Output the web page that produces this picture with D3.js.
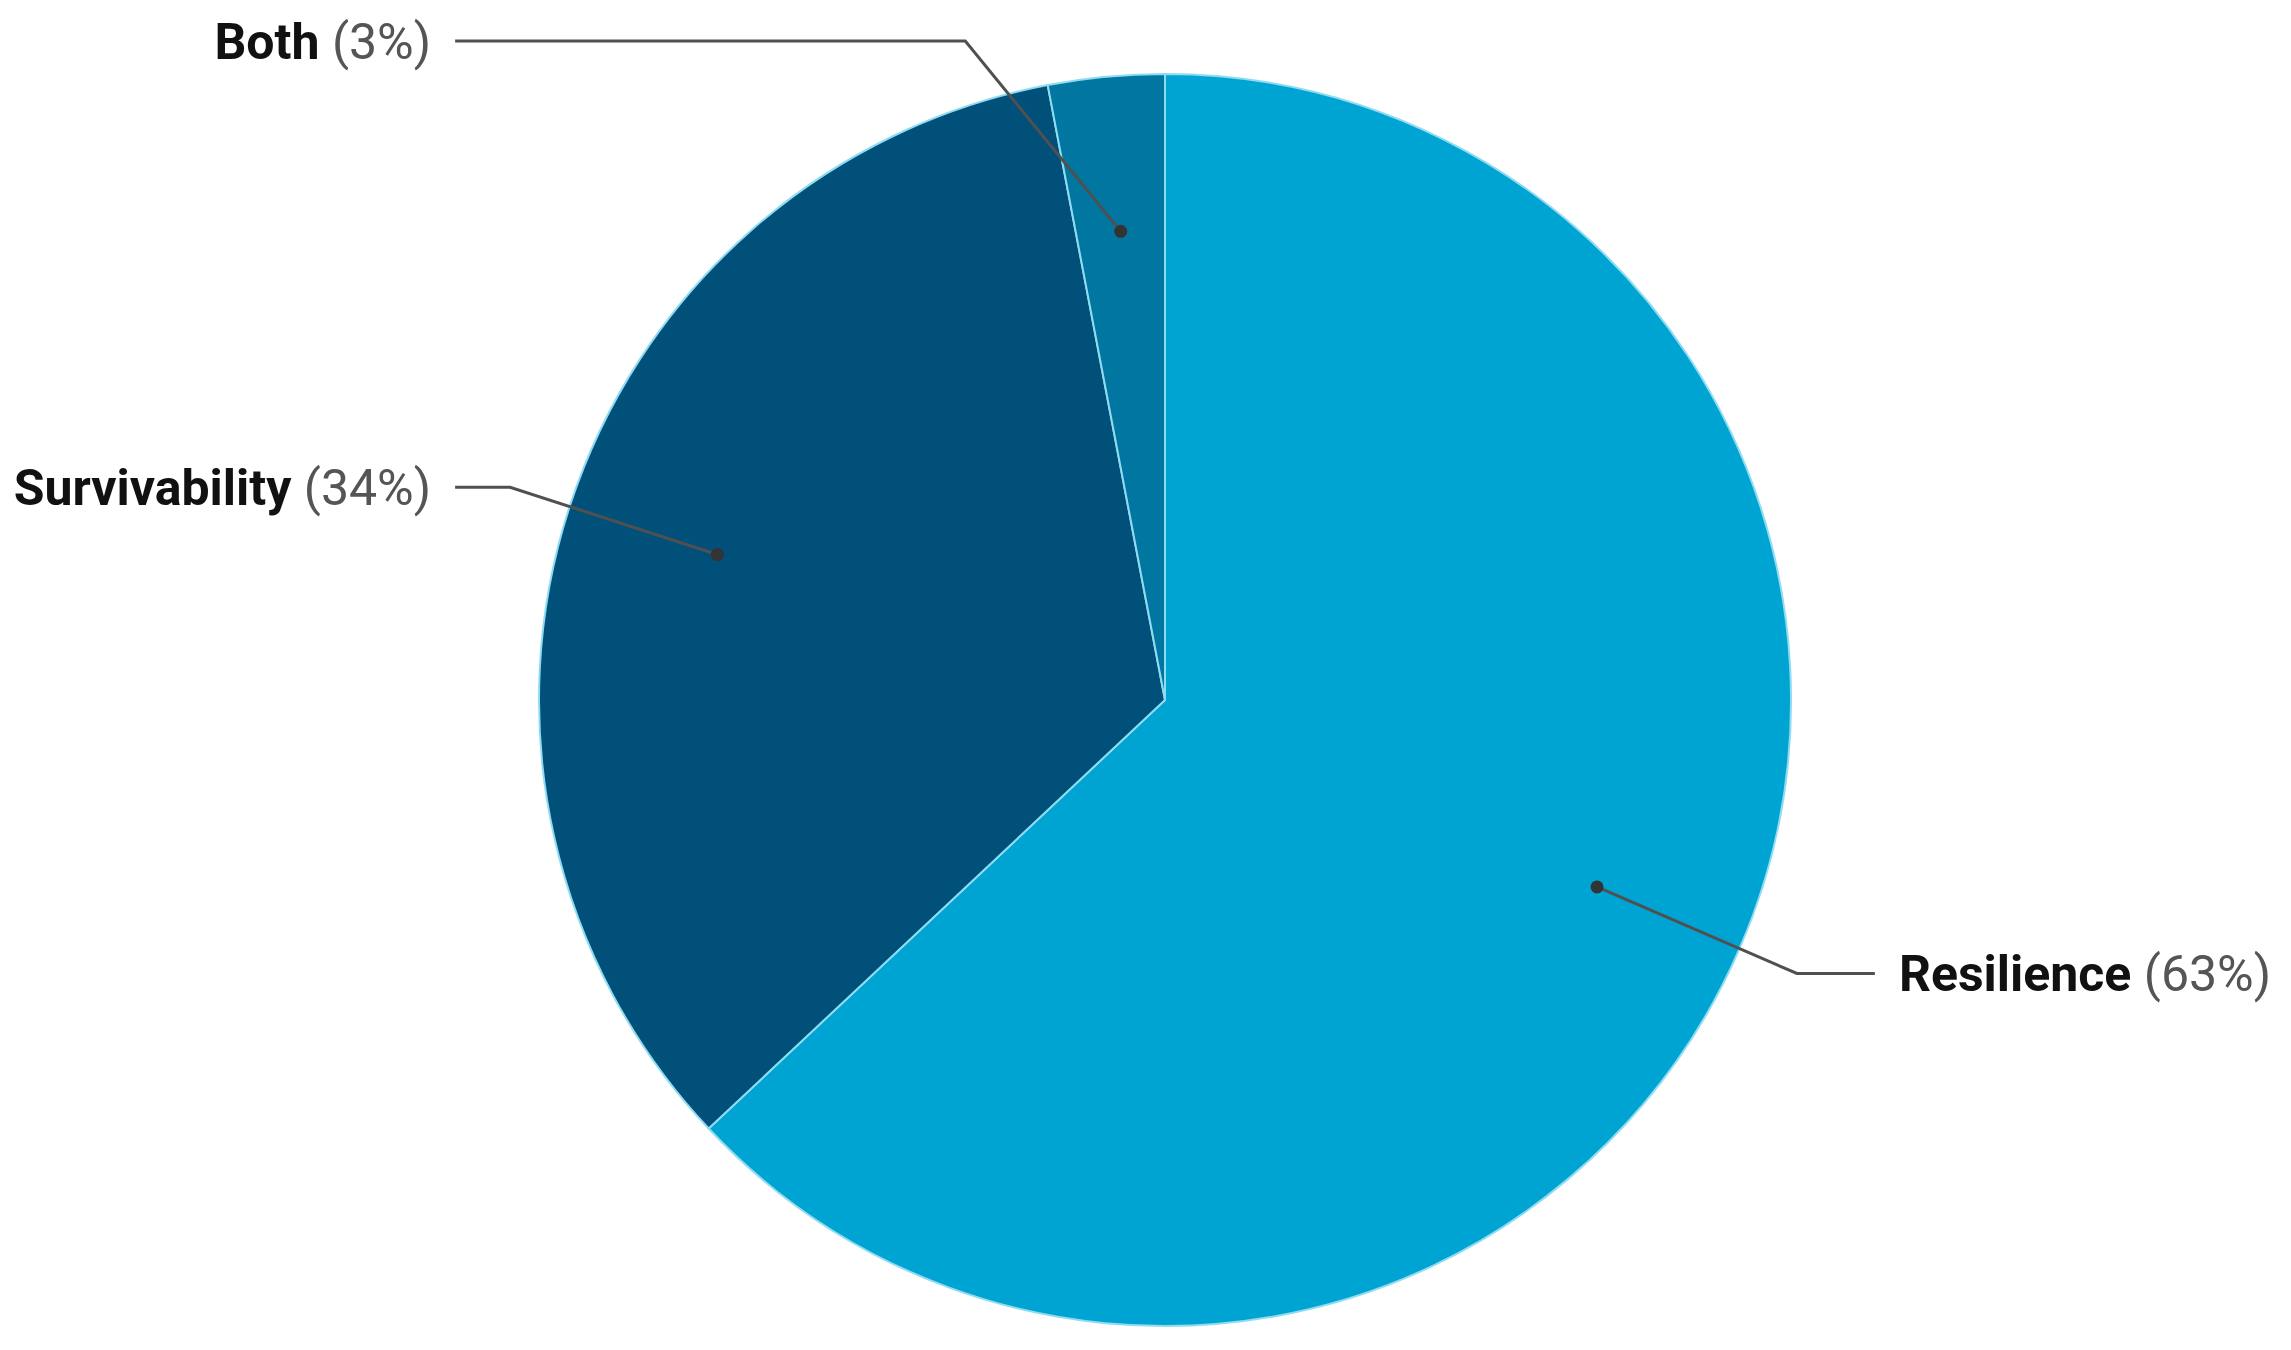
<!DOCTYPE html>
<html>
<head>
<meta charset="utf-8">
<script src="https://cdn.jsdelivr.net/npm/d3@7"></script>
<style>
html,body{margin:0;padding:0;background:#fff;}
svg{display:block;}
</style>
</head>
<body>
<svg id="chart" width="2291" height="1350"></svg>
<script>
const categories = ["Resilience", "Survivability", "Both"];
const values = [63, 34, 3];
const percentLabels = ["63%", "34%", "3%"];
const colors = ["#00A4D2", "#00507A", "#0076A0"];

const W = 2291, H = 1350;
const cx = 1165, cy = 700, R = 626;
const fontSize = 50;
const topLimit = 41;

const svg = d3.select("#chart");
const g = svg.append("g").attr("transform", `translate(${cx},${cy})`);

const data = categories.map((c, i) => ({name: c, value: values[i], pct: percentLabels[i], color: colors[i]}));
const pie = d3.pie().sort(null).value(d => d.value);
const arcs = pie(data);

const arc = d3.arc().innerRadius(0).outerRadius(R);
g.selectAll("path.slice").data(arcs).enter().append("path")
  .attr("class", "slice")
  .attr("d", arc)
  .attr("fill", d => d.data.color)
  .attr("stroke", "#8fdcf2")
  .attr("stroke-width", 2)
  .attr("stroke-linejoin", "round");

const dotArc = d3.arc().innerRadius(R * 0.752).outerRadius(R * 0.752);
const elbowR = R * 1.1;
const lineEnd = R * 1.134;

arcs.forEach(d => {
  const [dx, dy] = dotArc.centroid(d);
  const mid = (d.startAngle + d.endAngle) / 2;
  let ex = Math.sin(mid) * elbowR;
  let ey = -Math.cos(mid) * elbowR;
  const side = ex >= 0 ? 1 : -1;
  const minY = topLimit - cy;
  if (ey < minY) {
    ey = minY;
    ex = side * Math.sqrt(elbowR * elbowR - ey * ey);
  }
  const lx = side * lineEnd;
  g.append("polyline")
    .attr("points", `${dx},${dy} ${ex},${ey} ${lx},${ey}`)
    .attr("fill", "none")
    .attr("stroke", "#505050")
    .attr("stroke-width", 3);
  g.append("circle").attr("cx", dx).attr("cy", dy).attr("r", 6.5).attr("fill", "#333");

  const t = g.append("text")
    .attr("x", lx + side * 24)
    .attr("y", ey)
    .attr("dy", "0.35em")
    .attr("text-anchor", side > 0 ? "start" : "end")
    .attr("font-family", "Roboto, 'Noto Sans', sans-serif")
    .attr("font-size", fontSize);
  t.append("tspan").attr("font-weight", "bold").attr("fill", "#111").text(d.data.name + " ");
  t.append("tspan").attr("font-weight", "normal").attr("fill", "#555").text("(" + d.data.pct + ")");
});
</script>
</body>
</html>
